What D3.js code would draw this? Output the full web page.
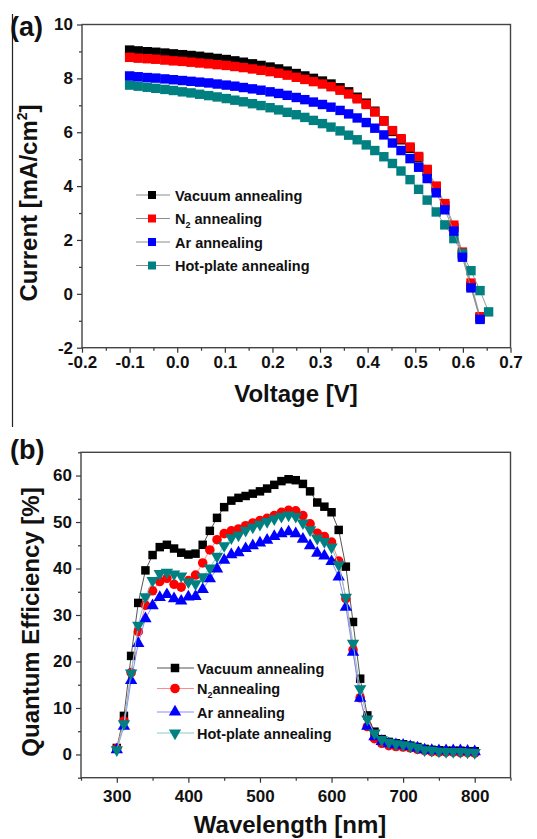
<!DOCTYPE html>
<html>
<head>
<meta charset="utf-8">
<script src="https://cdn.jsdelivr.net/npm/d3@7"></script>
<style>
  body { margin: 0; background: #fff; }
  svg text { font-family: "Liberation Sans", Arial, sans-serif; font-weight: bold; }
</style>
</head>
<body>
<script>
// ---- (a) J-V curves ----
let ivVoltage = [-0.100, -0.082, -0.063, -0.045, -0.026, -0.008, 0.011, 0.029, 0.047, 0.066,
    0.084, 0.103, 0.121, 0.139, 0.158, 0.176, 0.195, 0.213, 0.231, 0.250,
    0.268, 0.286, 0.305, 0.323, 0.342, 0.360, 0.378, 0.397, 0.415, 0.434,
    0.452, 0.470, 0.489, 0.507, 0.525, 0.544, 0.562, 0.581, 0.599, 0.617,
    0.636, 0.654];
let ivVacuum = [9.05, 9.02, 8.99, 8.97, 8.94, 8.91, 8.88, 8.85, 8.82, 8.78,
    8.74, 8.70, 8.65, 8.60, 8.54, 8.48, 8.42, 8.35, 8.27, 8.18,
    8.09, 8.00, 7.90, 7.79, 7.65, 7.50, 7.30, 7.08, 6.78, 6.42,
    6.03, 5.72, 5.40, 5.05, 4.55, 3.93, 3.27, 2.45, 1.45, 0.28,
    -0.90];
let ivN2 = [8.78, 8.75, 8.73, 8.71, 8.68, 8.65, 8.63, 8.60, 8.57, 8.54,
    8.51, 8.48, 8.44, 8.40, 8.35, 8.30, 8.25, 8.19, 8.12, 8.04,
    7.96, 7.88, 7.79, 7.69, 7.56, 7.42, 7.24, 7.03, 6.75, 6.42,
    6.06, 5.76, 5.45, 5.10, 4.62, 4.00, 3.35, 2.55, 1.55, 0.40,
    -0.85];
let ivAr = [8.09, 8.06, 8.03, 8.01, 7.98, 7.95, 7.92, 7.89, 7.86, 7.83,
    7.79, 7.75, 7.71, 7.66, 7.61, 7.56, 7.50, 7.44, 7.37, 7.29,
    7.21, 7.12, 7.03, 6.93, 6.81, 6.68, 6.53, 6.36, 6.15, 5.90,
    5.60, 5.32, 5.02, 4.70, 4.28, 3.75, 3.12, 2.33, 1.36, 0.22,
    -0.95];
let ivHotPlate = [7.75, 7.71, 7.67, 7.63, 7.59, 7.55, 7.50, 7.46, 7.41, 7.36,
    7.31, 7.25, 7.19, 7.13, 7.06, 6.99, 6.91, 6.83, 6.74, 6.65,
    6.55, 6.44, 6.32, 6.19, 6.05, 5.89, 5.72, 5.53, 5.32, 5.09,
    4.84, 4.56, 4.24, 3.88, 3.48, 3.04, 2.56, 2.05, 1.50, 0.86,
    0.12, -0.67];
let voltageTicks = [-0.2, -0.1, 0.0, 0.1, 0.2, 0.3, 0.4, 0.5, 0.6, 0.7];
let voltageMinor = [-0.15, -0.05, 0.05, 0.15, 0.25, 0.35, 0.45, 0.55, 0.65];
let currentTicks = [-2, 0, 2, 4, 6, 8, 10];
let currentMinor = [-1, 1, 3, 5, 7, 9];

// ---- (b) quantum efficiency ----
let wavelength = [300, 310, 320, 330, 340, 350, 360, 370, 380, 390,
    400, 410, 420, 430, 440, 450, 460, 470, 480, 490,
    500, 510, 520, 530, 540, 550, 560, 570, 580, 590,
    600, 610, 620, 630, 640, 650, 660, 670, 680, 690,
    700, 710, 720, 730, 740, 750, 760, 770, 780, 790, 800];
let eqeVacuum = [1.4, 8.3, 21.2, 32.6, 39.6, 42.9, 44.6, 45.1, 44.3, 43.4,
    43.0, 43.2, 45.1, 48.1, 50.9, 53.2, 54.6, 55.2, 55.6, 56.1,
    56.6, 57.2, 58.0, 58.8, 59.2, 59.0, 58.2, 56.6, 54.2, 53.3,
    52.1, 48.3, 40.4, 28.5, 16.3, 8.4, 4.9, 3.3, 2.7, 2.4,
    2.2, 1.9, 1.6, 1.2, 1.0, 0.9, 0.8, 0.8, 0.8, 0.7, 0.7];
let eqeN2 = [1.3, 7.2, 17.6, 26.4, 32.1, 35.2, 37.2, 37.9, 36.6, 36.0,
    37.4, 38.6, 41.2, 44.0, 46.2, 47.5, 48.1, 48.5, 49.2, 49.8,
    50.3, 50.8, 51.4, 52.1, 52.5, 52.4, 51.4, 49.6, 47.6, 46.9,
    45.7, 41.6, 33.5, 22.5, 12.2, 6.0, 3.4, 2.4, 1.9, 1.7,
    1.6, 1.4, 1.1, 0.8, 0.6, 0.5, 0.5, 0.5, 0.4, 0.4, 0.3];
let eqeAr = [1.0, 6.1, 15.9, 23.9, 29.2, 32.0, 33.8, 34.4, 33.5, 33.0,
    33.9, 34.0, 35.5, 37.8, 39.9, 41.8, 43.0, 43.4, 44.3, 44.9,
    45.5, 46.1, 46.9, 47.5, 47.9, 47.5, 46.3, 44.9, 43.3, 42.7,
    41.5, 38.2, 31.7, 22.0, 12.1, 6.1, 3.8, 2.8, 2.3, 2.1,
    2.0, 1.7, 1.4, 1.0, 0.9, 0.8, 0.8, 0.8, 0.8, 0.7, 0.6];
let eqeHotPlate = [1.0, 6.6, 17.5, 27.8, 33.9, 37.4, 38.9, 39.2, 38.8, 38.4,
    37.1, 36.7, 38.2, 40.1, 42.6, 44.9, 46.6, 47.2, 48.2, 48.9,
    49.5, 50.1, 50.7, 51.2, 51.5, 51.2, 49.8, 48.3, 46.5, 45.8,
    44.6, 40.8, 33.8, 23.9, 14.1, 7.6, 4.6, 3.2, 2.6, 2.3,
    2.1, 1.8, 1.5, 1.0, 0.9, 0.7, 0.6, 0.6, 0.6, 0.5, 0.4];
let wavelengthTicks = [300, 400, 500, 600, 700, 800];
let wavelengthMinor = [250, 350, 450, 550, 650, 750, 850];
let eqeTicks = [0, 10, 20, 30, 40, 50, 60];
let eqeMinor = [-5, 5, 15, 25, 35, 45, 55, 65];

let seriesNames = ["Vacuum annealing", "N2 annealing", "Ar annealing", "Hot-plate annealing"];

let colors = ["#000000", "#ff0000", "#0000ff", "#008080"],
    lineColorsB = ["#555555", "#ff8a8a", "#8a8aff", "#8ac8c8"];

let svgContainer = d3.select("body").append("svg")
    .attr("width", 537)
    .attr("height", 839);

let xA = d3.scaleLinear().domain([-0.2, 0.7]).range([82, 510.5]),
    yA = d3.scaleLinear().domain([-2, 10]).range([347.7, 24.5]),
    xB = d3.scaleLinear().domain([250, 850]).range([81, 510.5]),
    yB = d3.scaleLinear().domain([-5, 65]).range([777.7, 452.3]);

function drawAxes(x, y, xMajor, xMinor, yMajor, yMinor, xFormat, xPad) {
    let bottom = y.range()[0], left = x.range()[0];
    let gx = svgContainer.append("g").attr("transform", "translate(0," + bottom + ")");
    gx.call(d3.axisBottom(x).tickValues(xMajor).tickSize(5).tickPadding(xPad).tickFormat(xFormat));
    gx.append("g").call(d3.axisBottom(x).tickValues(xMinor).tickSize(3).tickFormat(""));
    let gy = svgContainer.append("g").attr("transform", "translate(" + left + ",0)");
    gy.call(d3.axisLeft(y).tickValues(yMajor).tickSize(5).tickPadding(4).tickFormat(d => String(d)));
    gy.append("g").call(d3.axisLeft(y).tickValues(yMinor).tickSize(3).tickFormat(""));
    [gx, gy].forEach(g => {
        g.selectAll(".domain").remove();
        g.selectAll("line").attr("stroke", "#333").attr("stroke-width", 1.2);
        g.selectAll("text").attr("font-size", 17).attr("font-family", null).attr("fill", "#111");
    });
    svgContainer.append("rect")
        .attr("x", x.range()[0]).attr("y", y.range()[1])
        .attr("width", x.range()[1] - x.range()[0])
        .attr("height", y.range()[0] - y.range()[1])
        .attr("fill", "none").attr("stroke", "#444").attr("stroke-width", 1.4);
}

function legendText(g, name, x, y, gap) {
    let t = g.append("text").attr("x", x).attr("y", y).attr("font-size", 14.5).attr("fill", "#111");
    if (name.indexOf("N2") === 0) {
        t.append("tspan").text("N");
        t.append("tspan").text("2").attr("font-size", 9).attr("dy", 4);
        t.append("tspan").text(gap + name.slice(3)).attr("dy", -4);
    } else {
        t.text(name);
    }
}

// ---------- panel (a) ----------
svgContainer.append("line")
    .attr("x1", 12.5).attr("x2", 12.5).attr("y1", 14).attr("y2", 427)
    .attr("stroke", "#222").attr("stroke-width", 1.2);

drawAxes(xA, yA, voltageTicks, voltageMinor, currentTicks, currentMinor, d => d.toFixed(1), 3);

let ivSeries = [ivVacuum, ivN2, ivHotPlate, ivAr];
let ivColors = [colors[0], colors[1], colors[3], colors[2]];
let ivLine = d3.line().x(d => xA(d.v)).y(d => yA(d.i));

ivSeries.forEach((values, s) => {
    let pts = values.map((v, k) => ({v: ivVoltage[k], i: v}));
    svgContainer.append("path").datum(pts)
        .attr("d", ivLine).attr("fill", "none")
        .attr("stroke", "#8c8c8c").attr("stroke-width", 0.9);
    svgContainer.append("g").selectAll("rect").data(pts).join("rect")
        .attr("x", d => xA(d.v) - 4.7).attr("y", d => yA(d.i) - 4.7)
        .attr("width", 9.4).attr("height", 9.4)
        .attr("fill", ivColors[s]);
});

let legA = svgContainer.append("g");
[195, 218.5, 242, 265.5].forEach((ly, s) => {
    legA.append("line").attr("x1", 136).attr("x2", 170).attr("y1", ly).attr("y2", ly)
        .attr("stroke", "#8c8c8c").attr("stroke-width", 1);
    legA.append("rect").attr("x", 152 - 4).attr("y", ly - 4).attr("width", 8).attr("height", 8)
        .attr("fill", colors[s]);
    legendText(legA, seriesNames[s], 175, ly + 5.5, " ");
});

svgContainer.append("text").attr("x", 296).attr("y", 402).attr("text-anchor", "middle")
    .attr("font-size", 24).attr("fill", "#111").text("Voltage [V]");

let yTitleA = svgContainer.append("text")
    .attr("transform", "translate(37,203) rotate(-90)")
    .attr("text-anchor", "middle").attr("font-size", 24).attr("fill", "#111");
yTitleA.append("tspan").text("Current [mA/cm");
yTitleA.append("tspan").text("2").attr("font-size", 14).attr("dy", -10);
yTitleA.append("tspan").text("]").attr("dy", 10);

svgContainer.append("text").attr("x", 10).attr("y", 36).attr("font-size", 27)
    .attr("fill", "#111").text("(a)");

// ---------- panel (b) ----------
drawAxes(xB, yB, wavelengthTicks, wavelengthMinor, eqeTicks, eqeMinor, d => String(d), 7);

let eqeSeries = [eqeVacuum, eqeN2, eqeAr, eqeHotPlate];
let symbols = [d3.symbolSquare, d3.symbolCircle, d3.symbolTriangle, d3.symbolTriangle];
let symbolSizes = [72, 72, 66, 66];
let eqeLine = d3.line().x(d => xB(d.w)).y(d => yB(d.q));

function marker(g, s, cx, cy) {
    g.append("path")
        .attr("d", d3.symbol().type(symbols[s]).size(symbolSizes[s])())
        .attr("transform", "translate(" + cx + "," + cy + ")" + (s === 3 ? " rotate(180)" : ""))
        .attr("fill", colors[s]);
}

eqeSeries.forEach((values, s) => {
    let pts = values.map((q, k) => ({w: wavelength[k], q: q}));
    svgContainer.append("path").datum(pts)
        .attr("d", eqeLine).attr("fill", "none")
        .attr("stroke", lineColorsB[s]).attr("stroke-width", 1);
    let g = svgContainer.append("g");
    pts.forEach(d => marker(g, s, xB(d.w), yB(d.q)));
});

let legB = svgContainer.append("g");
[668, 688.5, 712, 733].forEach((ly, s) => {
    legB.append("line").attr("x1", 157).attr("x2", 194).attr("y1", ly).attr("y2", ly)
        .attr("stroke", lineColorsB[s]).attr("stroke-width", 1);
    marker(legB, s, 175, ly);
    legendText(legB, seriesNames[s], 197, ly + 5.5, "");
});

svgContainer.append("text").attr("x", 290).attr("y", 833).attr("text-anchor", "middle")
    .attr("font-size", 24).attr("fill", "#111").text("Wavelength [nm]");

svgContainer.append("text")
    .attr("transform", "translate(39,622) rotate(-90)")
    .attr("text-anchor", "middle").attr("font-size", 24).attr("fill", "#111")
    .text("Quantum Efficiency [%]");

svgContainer.append("text").attr("x", 10).attr("y", 459).attr("font-size", 27)
    .attr("fill", "#111").text("(b)");
</script>
</body>
</html>
